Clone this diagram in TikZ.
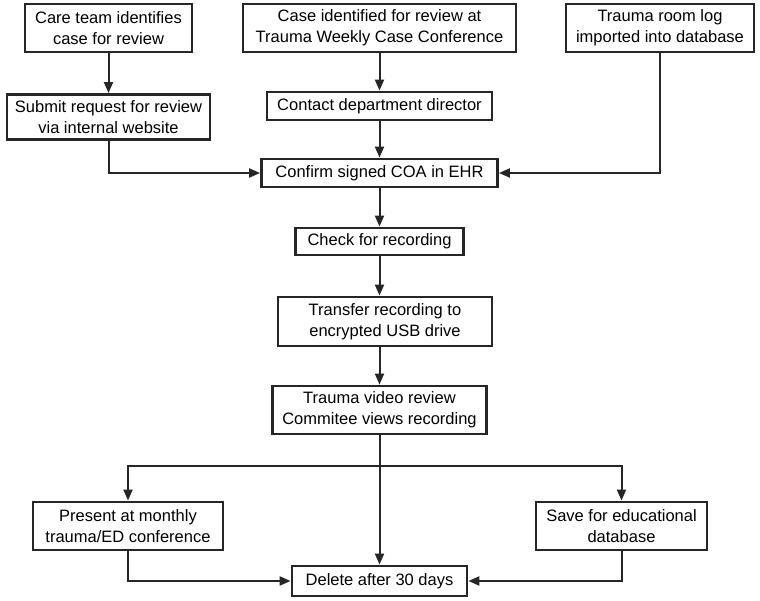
\documentclass[tikz,border=0pt]{standalone}
\usepackage{fontspec}
\setmainfont{Liberation Sans}
\usepackage{tikz}
\usetikzlibrary{arrows.meta,positioning,calc}

\begin{document}
\begin{tikzpicture}[x=1pt, y=1pt,
    every node/.style={font=\fontsize{16.5}{21}\selectfont},
    stepbox/.style={draw=black!85, line width=2.8pt, fill=white, align=center, inner sep=2pt},
    flow/.style={-{Triangle[length=11pt,width=9pt]}, line width=2pt, black!85}]
    \useasboundingbox (0,0) rectangle (760,-601);

    % Row 1: sources of a case
    \node[stepbox, minimum width=167, minimum height=48] (care) at (108.5,-28) {Care team identifies\\case for review};
    \node[stepbox, minimum width=273, minimum height=48] (casecon) at (379.5,-28) {Case identified for review at\\Trauma Weekly Case Conference};
    \node[stepbox, minimum width=188, minimum height=48] (roomlog) at (660,-28) {Trauma room log\\imported into database};

    % Row 2
    \node[stepbox, minimum width=203, minimum height=45] (submit) at (108.5,-117) {Submit request for review\\via internal website};
    \node[stepbox, minimum width=225, minimum height=28] (contact) at (379.5,-106) {Contact department director};

    % Main column
    \node[stepbox, minimum width=236, minimum height=28] (confirm) at (379.5,-173) {Confirm signed COA in EHR};
    \node[stepbox, minimum width=168, minimum height=27] (check) at (379.5,-241.5) {Check for recording};
    \node[stepbox, minimum width=214, minimum height=49] (transfer) at (385,-321.5) {Transfer recording to\\encrypted USB drive};
    \node[stepbox, minimum width=214, minimum height=48] (review) at (379.5,-410) {Trauma video review\\Commitee views recording};

    % Outcomes
    \node[stepbox, minimum width=190, minimum height=48] (present) at (128,-526) {Present at monthly\\trauma/ED conference};
    \node[stepbox, minimum width=171, minimum height=48] (save) at (621.5,-526) {Save for educational\\database};
    \node[stepbox, minimum width=175, minimum height=30] (delete) at (379.5,-581) {Delete after 30 days};
    \coordinate (split) at (379.5,-466);

    % Connectors
    \draw[flow] (care) -- (submit);
    \draw[flow] (casecon) -- (contact);
    \draw[flow] (contact) -- (confirm);
    \draw[flow] (submit.south) |- (confirm.west);
    \draw[flow] (roomlog.south) |- (confirm.east);
    \draw[flow] (confirm) -- (check);
    \draw[flow] (check.south) -- (check.south |- transfer.north);
    \draw[flow] (transfer.south -| check) -- (review.north);
    \draw[flow] (review.south) -- (delete.north);
    \draw[flow] (split) -| (present.north);
    \draw[flow] (split) -| (save.north);
    \draw[flow] (present.south) |- (delete.west);
    \draw[flow] (save.south) |- (delete.east);
\end{tikzpicture}
\end{document}
